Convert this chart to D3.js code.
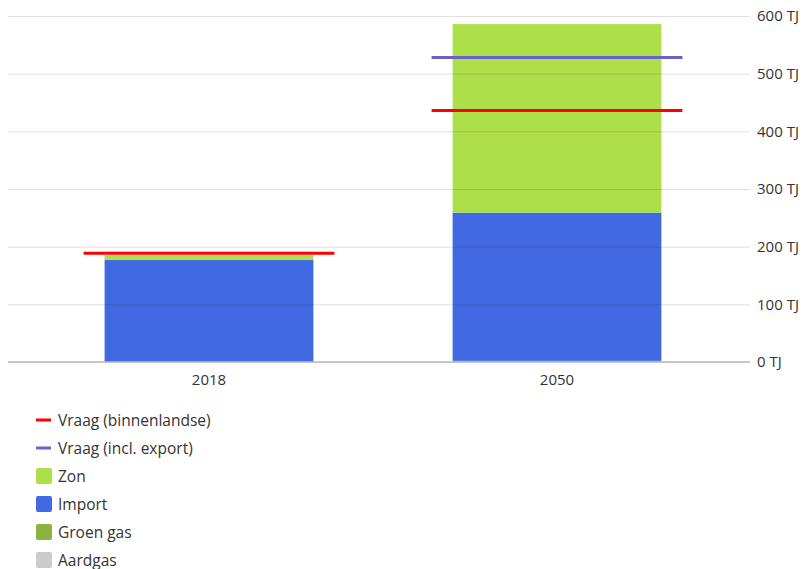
<!DOCTYPE html>
<html>
<head>
<meta charset="utf-8">
<script src="https://cdn.jsdelivr.net/npm/d3@7"></script>
<style>
  body { margin: 0; background: #fff; }
  text { font-family: "Open Sans", "Noto Sans", sans-serif; fill: #333; }
</style>
</head>
<body>
<div id="chart-area"></div>
<script>
// Data
var years = ["2018", "2050"];
var aardgas = [0, 0];
var groenGas = [0, 2];
var importe = [177.5, 257];
var zon = [8, 327];
var vraagBinnen = [188.5, 436];
var vraagExport = [null, 528];

var stackKeys = ["Aardgas", "Groen gas", "Import", "Zon"];
var stackColors = { "Aardgas": "#cccccc", "Groen gas": "#8db33f", "Import": "#4169e1", "Zon": "#addf4b" };
var yTicks = [0, 100, 200, 300, 400, 500, 600];

var width = 805, height = 569;
var plotLeft = 8, plotRight = 750, plotTop = 16, plotBottom = 362;

var svg = d3.select("#chart-area")
    .append("svg")
        .attr("width", width)
        .attr("height", height);

// Scales
var x = d3.scaleBand()
    .domain(years)
    .range([35, 731])
    .paddingInner(0.4)
    .paddingOuter(0.2);
var y = d3.scaleLinear()
    .domain([0, 600])
    .range([plotBottom, plotTop]);

var rows = years.map(function(yr, i){
    return { year: yr, "Aardgas": aardgas[i], "Groen gas": groenGas[i], "Import": importe[i], "Zon": zon[i] };
});
var series = d3.stack().keys(stackKeys)(rows);

// Bars
svg.append("g").selectAll("g")
    .data(series)
    .enter().append("g")
        .attr("fill", function(d){ return stackColors[d.key]; })
    .selectAll("rect")
    .data(function(d){ return d; })
    .enter().append("rect")
        .attr("x", function(d){ return x(d.data.year); })
        .attr("width", x.bandwidth())
        .attr("y", function(d){ return y(d[1]); })
        .attr("height", function(d){ return y(d[0]) - y(d[1]); });

// Gridlines (drawn over bars, translucent)
var yAxisCall = d3.axisRight(y)
    .tickValues(yTicks)
    .tickSize(-(plotRight - plotLeft))
    .tickPadding(7)
    .tickFormat(function(d){ return d + " TJ"; });
var yAxis = svg.append("g")
    .attr("transform", "translate(" + plotRight + ",0)")
    .call(yAxisCall);
yAxis.select(".domain").remove();
yAxis.selectAll(".tick line")
    .attr("stroke", "#000")
    .attr("stroke-opacity", 0.12);
yAxis.selectAll(".tick text")
    .attr("font-size", "15px")
    .attr("fill", "#333");

// Baseline
svg.append("line")
    .attr("x1", plotLeft).attr("x2", plotRight)
    .attr("y1", y(0)).attr("y2", y(0))
    .attr("stroke", "#bbb")
    .attr("stroke-width", 1.5);

// X labels
svg.append("g").selectAll("text")
    .data(years)
    .enter().append("text")
        .attr("x", function(d){ return x(d) + x.bandwidth() / 2; })
        .attr("y", 385)
        .attr("text-anchor", "middle")
        .attr("font-size", "15px")
        .text(function(d){ return d; });

// Demand lines
var lineExt = 21;
function demandLines(values, color){
    svg.append("g").selectAll("line")
        .data(years.map(function(yr, i){ return { year: yr, v: values[i] }; })
            .filter(function(d){ return d.v != null; }))
        .enter().append("line")
            .attr("x1", function(d){ return x(d.year) - lineExt; })
            .attr("x2", function(d){ return x(d.year) + x.bandwidth() + lineExt; })
            .attr("y1", function(d){ return y(d.v); })
            .attr("y2", function(d){ return y(d.v); })
            .attr("stroke", color)
            .attr("stroke-width", 3);
}
demandLines(vraagExport, "#6a62c9");
demandLines(vraagBinnen, "#ff0000");

// Legend
var legendItems = [
    { name: "Vraag (binnenlandse)", type: "line", color: "#ff0000" },
    { name: "Vraag (incl. export)", type: "line", color: "#6a62c9" },
    { name: "Zon", type: "rect", color: stackColors["Zon"] },
    { name: "Import", type: "rect", color: stackColors["Import"] },
    { name: "Groen gas", type: "rect", color: stackColors["Groen gas"] },
    { name: "Aardgas", type: "rect", color: stackColors["Aardgas"] }
];
var legend = svg.append("g").attr("transform", "translate(36, 420)");
legendItems.forEach(function(item, i){
    var row = legend.append("g").attr("transform", "translate(0," + (i * 28) + ")");
    if (item.type === "line") {
        row.append("line")
            .attr("x1", 0).attr("x2", 15)
            .attr("y1", 0).attr("y2", 0)
            .attr("stroke", item.color)
            .attr("stroke-width", 3);
    } else {
        row.append("rect")
            .attr("x", 0).attr("y", -8)
            .attr("width", 16).attr("height", 16)
            .attr("rx", 2)
            .attr("fill", item.color);
    }
    row.append("text")
        .attr("x", 22)
        .attr("y", 5.5)
        .attr("font-size", "15.5px")
        .text(item.name);
});
</script>
</body>
</html>
